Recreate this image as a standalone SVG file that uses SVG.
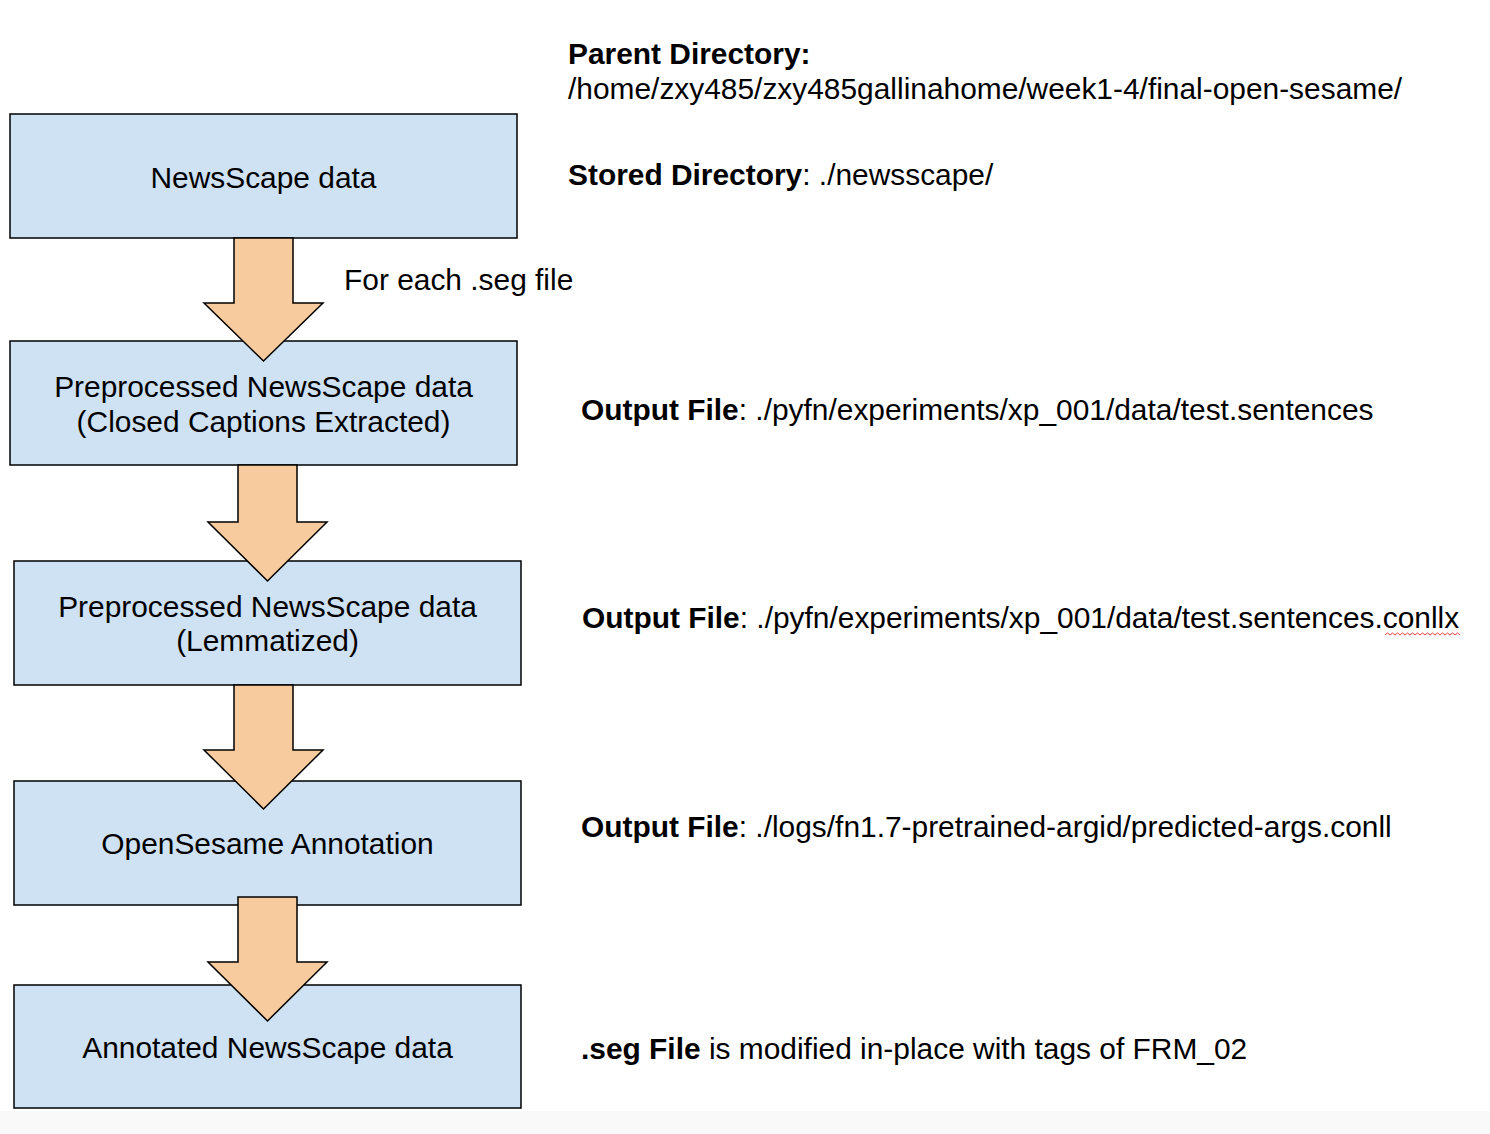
<svg xmlns="http://www.w3.org/2000/svg" width="1490" height="1134" viewBox="0 0 1490 1134">
<style>
.box{fill:#cfe2f3;stroke:#000;stroke-width:1.5}
.arr{fill:#f8cb9e;stroke:#000;stroke-width:1.5;stroke-linejoin:miter}
text{font-family:"Liberation Sans",Arial,sans-serif;font-size:29.9px;fill:#000}
.c{text-anchor:middle}
.b{font-weight:bold}
</style>
<rect x="0" y="0" width="1490" height="1134" fill="#fff"/>
<rect x="0" y="1111" width="1490" height="23" fill="#f9f9f9"/>
<g id="n1"><rect class="box" x="10" y="114" width="507" height="124"/><text class="c" x="263.5" y="188">NewsScape data</text></g>
<g id="n2"><rect class="box" x="10" y="341" width="507" height="124"/><text class="c" x="263.5" y="397">Preprocessed NewsScape data</text><text class="c" x="263.5" y="432">(Closed Captions Extracted)</text></g>
<g id="n3"><rect class="box" x="14" y="561" width="507" height="124"/><text class="c" x="267.5" y="617">Preprocessed NewsScape data</text><text class="c" x="267.5" y="651">(Lemmatized)</text></g>
<g id="n4"><rect class="box" x="14" y="781" width="507" height="124"/><text class="c" x="267.5" y="854">OpenSesame Annotation</text></g>
<g id="n5"><rect class="box" x="14" y="985" width="507" height="123"/><text class="c" x="267.5" y="1058">Annotated NewsScape data</text></g>
<g id="connectors">
<polygon class="arr" points="234,238 293,238 293,303 323,303 263.5,361 204,303 234,303"/>
<polygon class="arr" points="238,465 297,465 297,522 327,522 267.5,581 208,522 238,522"/>
<polygon class="arr" points="234,685 293,685 293,750 323,750 263.5,809 204,750 234,750"/>
<polygon class="arr" points="238,897 297,897 297,962 327,962 267.5,1021 208,962 238,962"/>
<text x="344" y="290">For each .seg file</text>
</g>
<g id="notes">
<text class="b" x="568" y="64">Parent Directory:</text>
<text x="568" y="99">/home/zxy485/zxy485gallinahome/week1-4/final-open-sesame/</text>
<text x="568" y="185"><tspan class="b">Stored Directory</tspan>: ./newsscape/</text>
<text x="581" y="420"><tspan class="b">Output File</tspan>: ./pyfn/experiments/xp_001/data/test.sentences</text>
<text x="582" y="628"><tspan class="b">Output File</tspan>: ./pyfn/experiments/xp_001/data/test.sentences.conllx</text>
<path d="M1385,635 l2.5,-2 l2.5,2 l2.5,-2 l2.5,2 l2.5,-2 l2.5,2 l2.5,-2 l2.5,2 l2.5,-2 l2.5,2 l2.5,-2 l2.5,2 l2.5,-2 l2.5,2 l2.5,-2 l2.5,2 l2.5,-2 l2.5,2 l2.5,-2 l2.5,2 l2.5,-2 l2.5,2 l2.5,-2 l2.5,2 l2.5,-2 l2.5,2 l2.5,-2 l2.5,2 l2.5,-2 l2.5,2" fill="none" stroke="#e8473f" stroke-width="1"/>
<text x="581" y="837"><tspan class="b">Output File</tspan>: ./logs/fn1.7-pretrained-argid/predicted-args.conll</text>
<text x="581" y="1059"><tspan class="b">.seg File</tspan> is modified in-place with tags of FRM_02</text>
</g>
</svg>
